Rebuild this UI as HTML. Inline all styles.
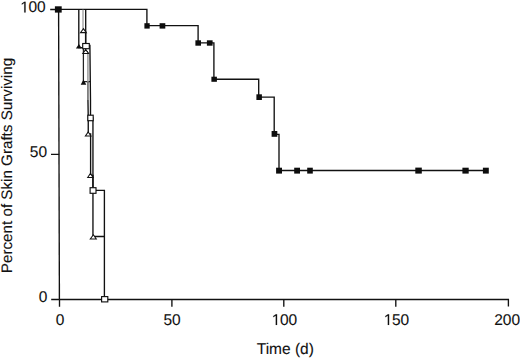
<!DOCTYPE html>
<html><head><meta charset="utf-8">
<style>
html,body{margin:0;padding:0;background:#fff;}
body{width:520px;height:358px;overflow:hidden;}
svg{display:block;}
text{font-family:"Liberation Sans",sans-serif;fill:#111;stroke:#111;stroke-width:0.1px;text-rendering:geometricPrecision;}
</style></head>
<body>
<svg width="520" height="358" viewBox="0 0 520 358">
<g stroke="#111" stroke-width="1.35" fill="none" stroke-linecap="butt" stroke-linejoin="miter">
  <!-- axes -->
  <path d="M58.6 9.4 L59.4 299.5"/>
  <path d="M59.4 299.5 H508.4 V306.6"/>
  <!-- y ticks -->
  <path d="M50.2 9.5 H59 M51 154.4 H59.2 M51.2 299.5 H59.4"/>
  <!-- x ticks -->
  <path d="M59.5 299.5 V306.8 M171.9 299.5 V306.8 M283.8 299.5 V306.8 M395.8 299.5 V306.8"/>

  <!-- filled-square curve -->
  <path d="M58.6 9.4 H146.9 V25.6 H198.1 V42.9 H213.9 V79.2 H258.7 V97.1 H274.2 V134.3 H279 V170.5 H486"/>

  <!-- filled triangle curve -->
  <path d="M78.8 9.4 V47.6 H83.5"/>
  <path d="M83.4 47 V81.5 H90.5" stroke="#222" stroke-width="1.25"/>
  <!-- open triangle curve -->
  <path d="M83 9.4 V29" stroke-width="1.1" stroke="#8a8a8a"/>
  <path d="M83.4 32 H85.6 V52 H88"/>
  <path d="M87.9 52 V82" stroke-width="1.5" stroke="#999"/>
  <path d="M87.95 81.7 V100" stroke-width="1.4" stroke="#555"/>
  <path d="M87.95 100 L88.25 118 V133.8 H90.6 V175.5 H92.95 V236.5 H104.4"/>
  <!-- open square curve -->
  <path d="M85.7 9.4 V45.5 H89.9 L90.5 100 V118 H92.95 V190.3 H104.4 V299.5"/>
</g>
<!-- filled squares -->
<g fill="#0d0d0d">
  <rect x="54.9" y="6.3" width="6.8" height="6.3"/>
  <rect x="144.4" y="23.2" width="5.3" height="5.4"/>
  <rect x="159.6" y="23.2" width="5.7" height="5.4"/>
  <rect x="195.4" y="40.3" width="5.6" height="5.4"/>
  <rect x="206.9" y="40.3" width="5.7" height="5.4"/>
  <rect x="211.4" y="76.7" width="5.5" height="5.1"/>
  <rect x="256.4" y="94.3" width="5.5" height="5.7"/>
  <rect x="271.6" y="131" width="5.7" height="5.8"/>
  <rect x="276.1" y="167.7" width="5.9" height="5.9"/>
  <rect x="294.2" y="167.7" width="5.8" height="5.9"/>
  <rect x="307.2" y="167.7" width="5.6" height="5.9"/>
  <rect x="415.3" y="167.6" width="6.5" height="6"/>
  <rect x="462.4" y="167.7" width="6.3" height="5.9"/>
  <rect x="482.9" y="167.7" width="5.9" height="5.9"/>
  <!-- filled triangles -->
  <path d="M78.9 44 L81.9 48.6 L75.9 48.6 Z"/>
  <path d="M83.45 79.4 L86.3 84.8 L80.7 84.8 Z"/>
</g>
<!-- open markers -->
<g fill="#fff" stroke="#111" stroke-width="1.15" stroke-linejoin="miter">
  <rect x="82.7" y="43.5" width="6.6" height="5.2"/>
  <rect x="87.8" y="115.2" width="5.4" height="5.5"/>
  <rect x="90.1" y="187.7" width="5.9" height="5.6"/>
  <rect x="101.6" y="296.6" width="6.2" height="5.3"/>
</g>
<g fill="#fff" stroke="#111" stroke-width="1.05" stroke-linejoin="miter">
  <path d="M83.4 28.6 L86.3 32.6 L80.5 32.6 Z"/>
  <path d="M85.7 49.6 L88.6 53.4 L82.8 53.4 Z"/>
  <path d="M88.2 132 L91 136 L85.4 136 Z"/>
  <path d="M90.4 173.4 L93.1 177.4 L87.7 177.4 Z"/>
  <path d="M93.3 234.8 L96.3 239 L90.3 239 Z"/>
</g>
<!-- labels -->
<g font-size="15.5">
  <path transform="translate(19.84 12.4) scale(0.007568 -0.007568)" d="M583 0V1237L255 1012V1180L598 1409H763V0Z" fill="#111" stroke="#111" stroke-width="13"/><text x="28.46" y="12.4">00</text>
  <text x="47.1" y="157.1" text-anchor="end">50</text>
  <text x="47.4" y="302.2" text-anchor="end">0</text>
  <text x="60.1" y="325" text-anchor="middle">0</text>
  <text x="172" y="325" text-anchor="middle">50</text>
  <path transform="translate(271.32 325) scale(0.007568 -0.007568)" d="M583 0V1237L255 1012V1180L598 1409H763V0Z" fill="#111" stroke="#111" stroke-width="13"/><text x="279.94" y="325">00</text>
  <path transform="translate(383.37 325) scale(0.007568 -0.007568)" d="M583 0V1237L255 1012V1180L598 1409H763V0Z" fill="#111" stroke="#111" stroke-width="13"/><text x="391.99" y="325">50</text>
  <text x="507.1" y="325" text-anchor="middle">200</text>
  <text x="285.3" y="353.5" text-anchor="middle">Time (d)</text>
  <text transform="translate(11.8 165.5) rotate(-90)" text-anchor="middle" font-size="15.2">Percent of Skin Grafts Surviving</text>
</g>
</svg>
</body></html>
